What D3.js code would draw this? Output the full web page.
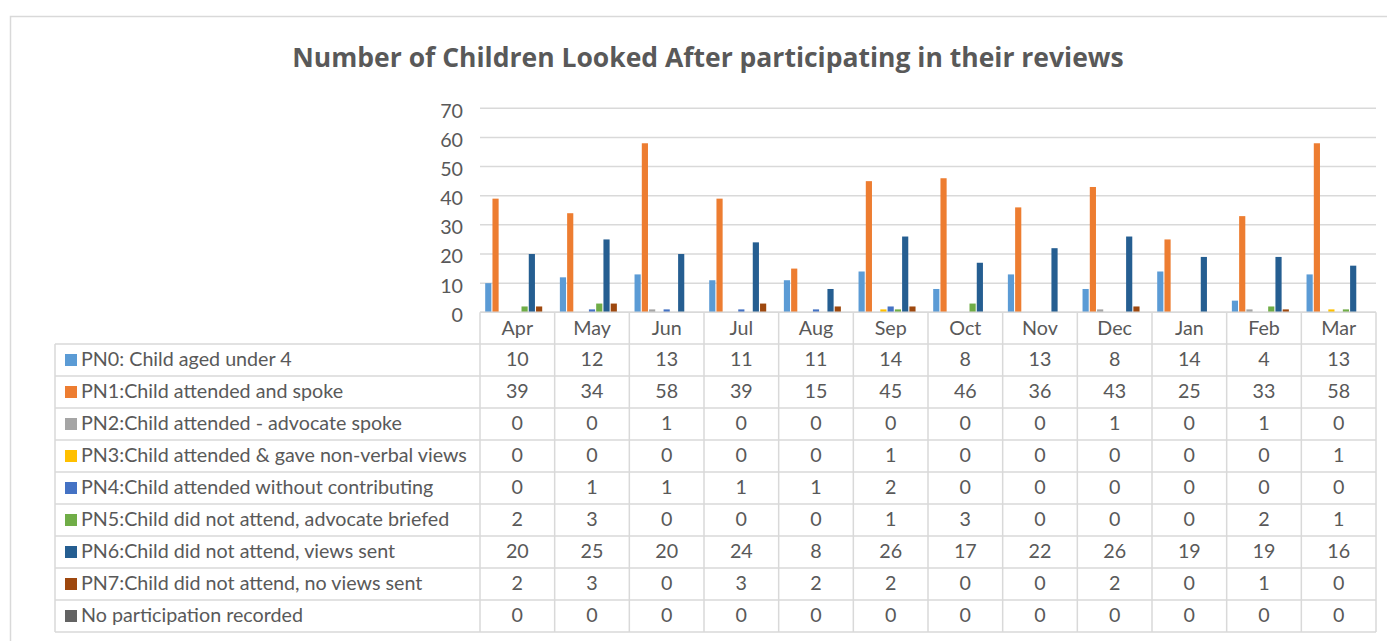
<!DOCTYPE html>
<html>
<head>
<meta charset="utf-8">
<script src="https://cdn.jsdelivr.net/npm/d3@7"></script>
<style>
  html, body { margin: 0; padding: 0; background: #fff; }
  svg { display: block; font-family: Lato, "Open Sans", sans-serif; }
</style>
</head>
<body>
<svg id="chart" width="1387" height="641"></svg>
<script>
// Monthly counts of review participation codes
const months = ["Apr", "May", "Jun", "Jul", "Aug", "Sep", "Oct", "Nov", "Dec", "Jan", "Feb", "Mar"];

const seriesNames = [
  "PN0: Child aged under 4",
  "PN1:Child attended and spoke",
  "PN2:Child attended - advocate spoke",
  "PN3:Child attended & gave non-verbal views",
  "PN4:Child attended without contributing",
  "PN5:Child did not attend, advocate briefed",
  "PN6:Child did not attend, views sent",
  "PN7:Child did not attend, no views sent",
  "No participation recorded"
];

const pn0 = [10, 12, 13, 11, 11, 14, 8, 13, 8, 14, 4, 13];
const pn1 = [39, 34, 58, 39, 15, 45, 46, 36, 43, 25, 33, 58];
const pn2 = [0, 0, 1, 0, 0, 0, 0, 0, 1, 0, 1, 0];
const pn3 = [0, 0, 0, 0, 0, 1, 0, 0, 0, 0, 0, 1];
const pn4 = [0, 1, 1, 1, 1, 2, 0, 0, 0, 0, 0, 0];
const pn5 = [2, 3, 0, 0, 0, 1, 3, 0, 0, 0, 2, 1];
const pn6 = [20, 25, 20, 24, 8, 26, 17, 22, 26, 19, 19, 16];
const pn7 = [2, 3, 0, 3, 2, 2, 0, 0, 2, 0, 1, 0];
const noParticipation = [0, 0, 0, 0, 0, 0, 0, 0, 0, 0, 0, 0];

const yTicks = [0, 10, 20, 30, 40, 50, 60, 70];

const seriesValues = [pn0, pn1, pn2, pn3, pn4, pn5, pn6, pn7, noParticipation];
const seriesColors = ["#5B9BD5", "#ED7D31", "#A5A5A5", "#FFC000", "#4472C4",
                      "#70AD47", "#255E91", "#9E480E", "#636363"];

const textColor = "#595959";
const lineColor = "#D9D9D9";
const fontSize = 19.7;

const svg = d3.select("#chart");

// chart frame
svg.append("rect")
  .attr("x", 10.5).attr("y", 16.5)
  .attr("width", 1400).attr("height", 700)
  .attr("fill", "#fff")
  .attr("stroke", lineColor).attr("stroke-width", 1.5);

// title
svg.append("text")
  .attr("x", 708).attr("y", 67)
  .attr("text-anchor", "middle")
  .attr("font-family", "'Open Sans', Lato, sans-serif")
  .attr("font-size", 26.5).attr("font-weight", 700)
  .attr("fill", textColor)
  .text("Number of Children Looked After participating in their reviews");

const plotLeft = 480, plotRight = 1376;
const plotTop = 108.3, plotBottom = 312.3;

const x0 = d3.scaleBand().domain(months).range([plotLeft, plotRight]).padding(0);
const edge = 5.2;
const x1 = d3.scaleBand()
  .domain(d3.range(seriesNames.length))
  .range([edge, x0.bandwidth() - edge])
  .paddingInner(0.15);
const y = d3.scaleLinear().domain([0, 70]).range([plotBottom, plotTop]);

// gridlines
svg.append("g")
  .selectAll("line")
  .data(yTicks)
  .join("line")
  .attr("x1", plotLeft).attr("x2", plotRight)
  .attr("y1", d => y(d)).attr("y2", d => y(d))
  .attr("stroke", lineColor).attr("stroke-width", 1.5);

// y axis labels
const yAxis = svg.append("g")
  .attr("transform", `translate(${plotLeft - 17},0)`)
  .call(d3.axisLeft(y).tickValues(yTicks).tickSize(0).tickPadding(0));
yAxis.select(".domain").remove();
yAxis.selectAll("text")
  .attr("font-family", "Lato, 'Open Sans', sans-serif")
  .attr("font-size", fontSize)
  .attr("fill", textColor)
  .attr("dy", "0.45em");

// bars
const groups = svg.append("g")
  .selectAll("g")
  .data(months)
  .join("g")
  .attr("transform", m => `translate(${x0(m)},0)`);

groups.selectAll("rect")
  .data((m, i) => seriesValues.map((vals, s) => ({ s, v: vals[i] })))
  .join("rect")
  .attr("x", d => x1(d.s))
  .attr("width", x1.bandwidth())
  .attr("y", d => y(d.v))
  .attr("height", d => y(0) - y(d.v))
  .attr("fill", d => seriesColors[d.s]);

// data table
const rowH = 32;
const headerTop = plotBottom;
const tableTop = 344;
const legendLeft = 55;
const tableBottom = tableTop + rowH * seriesNames.length;

const grid = svg.append("g")
  .attr("stroke", lineColor).attr("stroke-width", 1.5).attr("fill", "none");

// horizontal lines: axis baseline / header bottom / rows
grid.append("line")
  .attr("x1", plotLeft).attr("x2", plotRight)
  .attr("y1", headerTop).attr("y2", headerTop);
grid.selectAll("line.row")
  .data(d3.range(seriesNames.length + 1))
  .join("line")
  .attr("class", "row")
  .attr("x1", legendLeft).attr("x2", plotRight)
  .attr("y1", i => tableTop + i * rowH).attr("y2", i => tableTop + i * rowH);

// vertical lines
grid.append("line")
  .attr("x1", legendLeft).attr("x2", legendLeft)
  .attr("y1", tableTop).attr("y2", tableBottom);
grid.selectAll("line.col")
  .data(months.concat(["end"]))
  .join("line")
  .attr("class", "col")
  .attr("x1", (m, i) => i < months.length ? x0(m) : plotRight)
  .attr("x2", (m, i) => i < months.length ? x0(m) : plotRight)
  .attr("y1", headerTop).attr("y2", tableBottom);

// month headers
svg.append("g")
  .selectAll("text")
  .data(months)
  .join("text")
  .attr("x", m => x0(m) + x0.bandwidth() / 2)
  .attr("y", headerTop + rowH / 2)
  .attr("dy", "0.32em")
  .attr("text-anchor", "middle")
  .attr("font-size", fontSize)
  .attr("fill", textColor)
  .text(m => m);

// legend rows with keys
const rows = svg.append("g")
  .selectAll("g")
  .data(seriesNames)
  .join("g")
  .attr("transform", (d, i) => `translate(0,${tableTop + i * rowH + rowH / 2})`);

rows.append("rect")
  .attr("x", 65).attr("y", -6)
  .attr("width", 12).attr("height", 12)
  .attr("fill", (d, i) => seriesColors[i]);

rows.append("text")
  .attr("x", 81).attr("dy", "0.32em")
  .attr("font-size", fontSize)
  .attr("fill", textColor)
  .text(d => d);

rows.selectAll("text.val")
  .data((d, i) => seriesValues[i].map((v, j) => ({ v, m: months[j] })))
  .join("text")
  .attr("class", "val")
  .attr("x", d => x0(d.m) + x0.bandwidth() / 2)
  .attr("dy", "0.32em")
  .attr("text-anchor", "middle")
  .attr("font-size", fontSize)
  .attr("fill", textColor)
  .text(d => d.v);
</script>
</body>
</html>
